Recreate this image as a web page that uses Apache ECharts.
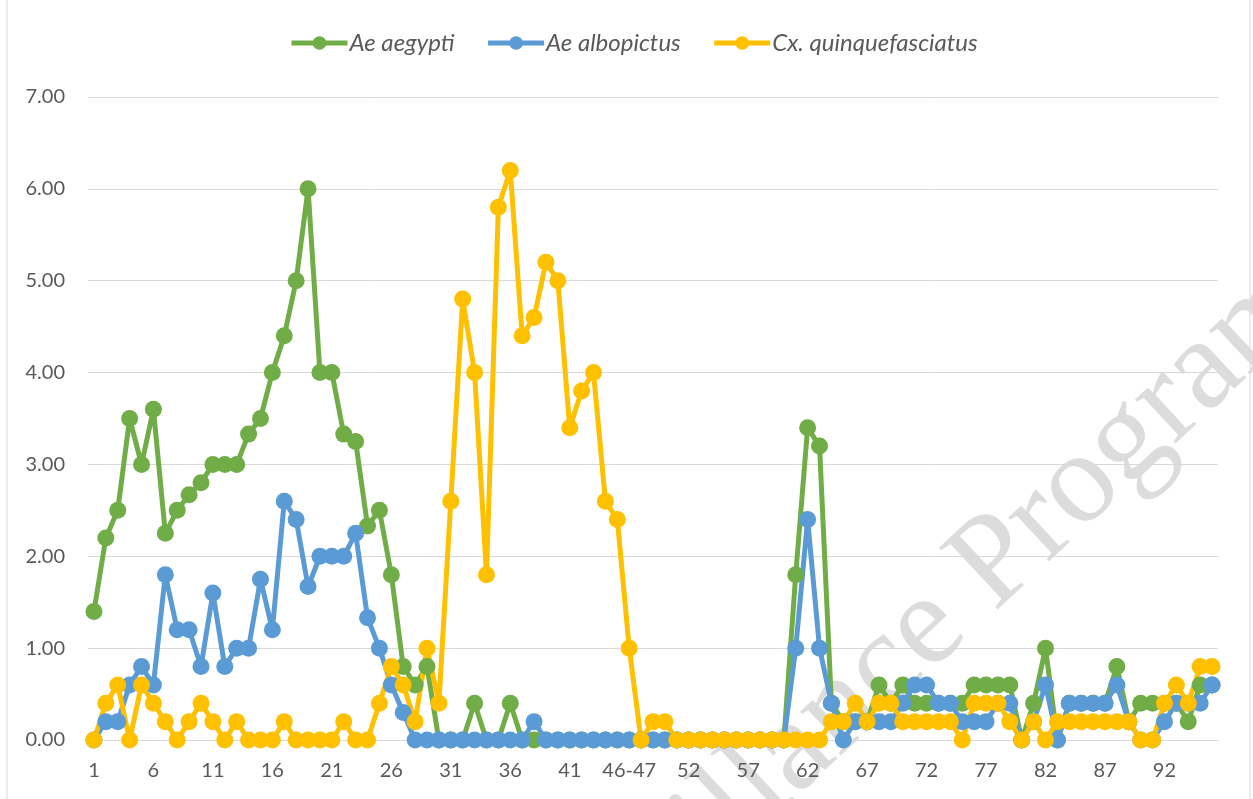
<!DOCTYPE html>
<html>
<head>
<meta charset="utf-8">
<title>Mosquito density</title>
<script src="https://cdn.jsdelivr.net/npm/echarts@6/dist/echarts.min.js"></script>
<style>
  html, body { margin: 0; padding: 0; background: #fff; }
  #chart { width: 1253px; height: 799px; }
</style>
</head>
<body>
<div id="chart"></div>
<script>
// categories: 1..45, then "46-47", then 48..96
const categories = []
for (let i = 1; i <= 45; i++) categories.push(String(i))
categories.push('46-47')
for (let i = 48; i <= 96; i++) categories.push(String(i))

const aegypti = [
  1.4, 2.2, 2.5, 3.5, 3.0, 3.6, 2.25, 2.5, 2.67, 2.8,
  3.0, 3.0, 3.0, 3.33, 3.5, 4.0, 4.4, 5.0, 6.0, 4.0,
  4.0, 3.33, 3.25, 2.33, 2.5, 1.8, 0.8, 0.6, 0.8, 0,
  0, 0, 0.4, 0, 0, 0.4, 0, 0, 0, 0,
  0, 0, 0, 0, 0, 0, 0, 0, 0, 0,
  0, 0, 0, 0, 0, 0, 0, 0, 0, 1.8,
  3.4, 3.2, 0.4, 0.2, 0.2, 0.2, 0.6, 0.4, 0.6, 0.4,
  0.4, 0.4, 0.4, 0.4, 0.6, 0.6, 0.6, 0.6, 0, 0.4,
  1.0, 0, 0.4, 0.4, 0.4, 0.4, 0.8, 0.2, 0.4, 0.4,
  0.4, 0.4, 0.2, 0.6, 0.6
]
const albopictus = [
  0, 0.2, 0.2, 0.6, 0.8, 0.6, 1.8, 1.2, 1.2, 0.8,
  1.6, 0.8, 1.0, 1.0, 1.75, 1.2, 2.6, 2.4, 1.67, 2.0,
  2.0, 2.0, 2.25, 1.33, 1.0, 0.6, 0.3, 0, 0, 0,
  0, 0, 0, 0, 0, 0, 0, 0.2, 0, 0,
  0, 0, 0, 0, 0, 0, 0, 0, 0, 0,
  0, 0, 0, 0, 0, 0, 0, 0, 0, 1.0,
  2.4, 1.0, 0.4, 0, 0.2, 0.2, 0.2, 0.2, 0.4, 0.6,
  0.6, 0.4, 0.4, 0.2, 0.2, 0.2, 0.4, 0.4, 0, 0.2,
  0.6, 0, 0.4, 0.4, 0.4, 0.4, 0.6, 0.2, 0, 0,
  0.2, 0.4, 0.4, 0.4, 0.6
]
const quinque = [
  0, 0.4, 0.6, 0, 0.6, 0.4, 0.2, 0, 0.2, 0.4,
  0.2, 0, 0.2, 0, 0, 0, 0.2, 0, 0, 0,
  0, 0.2, 0, 0, 0.4, 0.8, 0.6, 0.2, 1.0, 0.4,
  2.6, 4.8, 4.0, 1.8, 5.8, 6.2, 4.4, 4.6, 5.2, 5.0,
  3.4, 3.8, 4.0, 2.6, 2.4, 1.0, 0, 0.2, 0.2, 0,
  0, 0, 0, 0, 0, 0, 0, 0, 0, 0,
  0, 0, 0.2, 0.2, 0.4, 0.2, 0.4, 0.4, 0.2, 0.2,
  0.2, 0.2, 0.2, 0, 0.4, 0.4, 0.4, 0.2, 0, 0.2,
  0, 0.2, 0.2, 0.2, 0.2, 0.2, 0.2, 0.2, 0, 0,
  0.4, 0.6, 0.4, 0.8, 0.8
]
const seriesNames = ['Ae aegypti', 'Ae albopictus', 'Cx. quinquefasciatus']
const colors = ['#70AD47', '#5B9BD5', '#FFC000']

const font = 'Lato, "Open Sans", sans-serif'
const chart = echarts.init(document.getElementById('chart'))

const makeLine = (name, data, color) => ({
  name,
  type: 'line',
  data,
  symbol: 'circle',
  symbolSize: 17,
  showAllSymbol: true,
  itemStyle: { color, borderWidth: 0 },
  lineStyle: { color, width: 5 },
  emphasis: { disabled: true }
})

chart.setOption({
  animation: false,
  color: colors,
  legend: {
    top: 31,
    left: 289,
    padding: 0,
    itemWidth: 56,
    itemHeight: 17,
    itemGap: 31,
    lineStyle: { width: 5 },
    textStyle: { fontFamily: font, fontSize: 24, fontStyle: 'italic', color: '#595959', padding: [0, 0, 0, -3] },
    data: seriesNames
  },
  grid: { left: 88, right: 35, top: 97, bottom: 59, outerBoundsMode: 'none' },
  xAxis: {
    type: 'category',
    data: categories,
    boundaryGap: true,
    axisLine: { lineStyle: { color: '#D9D9D9', width: 1 } },
    axisTick: { show: false },
    axisLabel: { interval: 4, margin: 21, fontFamily: font, fontSize: 20, color: '#595959' }
  },
  yAxis: {
    type: 'value',
    min: 0,
    max: 7,
    interval: 1,
    axisLine: { show: false },
    axisTick: { show: false },
    splitLine: { lineStyle: { color: '#D9D9D9', width: 1 } },
    axisLabel: {
      margin: 23,
      fontFamily: font,
      fontSize: 20,
      color: '#595959',
      formatter: v => v.toFixed(2)
    }
  },
  graphic: [
    // chart border
    {
      type: 'rect',
      z: -10,
      shape: { x: 7, y: -10, width: 1243, height: 820 },
      style: { fill: 'none', stroke: '#D9D9D9', lineWidth: 1 }
    },
    // watermark
    {
      type: 'text',
      z: -5,
      x: 516,
      y: 1100,
      rotation: 0.75,
      style: {
        text: 'Surveillance Program',
        font: '130px "Liberation Serif", serif',
        fill: '#DCDCDC',
        textAlign: 'left',
        textVerticalAlign: 'bottom'
      }
    }
  ],
  series: [
    makeLine(seriesNames[0], aegypti, colors[0]),
    makeLine(seriesNames[1], albopictus, colors[1]),
    makeLine(seriesNames[2], quinque, colors[2])
  ]
})
</script>
</body>
</html>
